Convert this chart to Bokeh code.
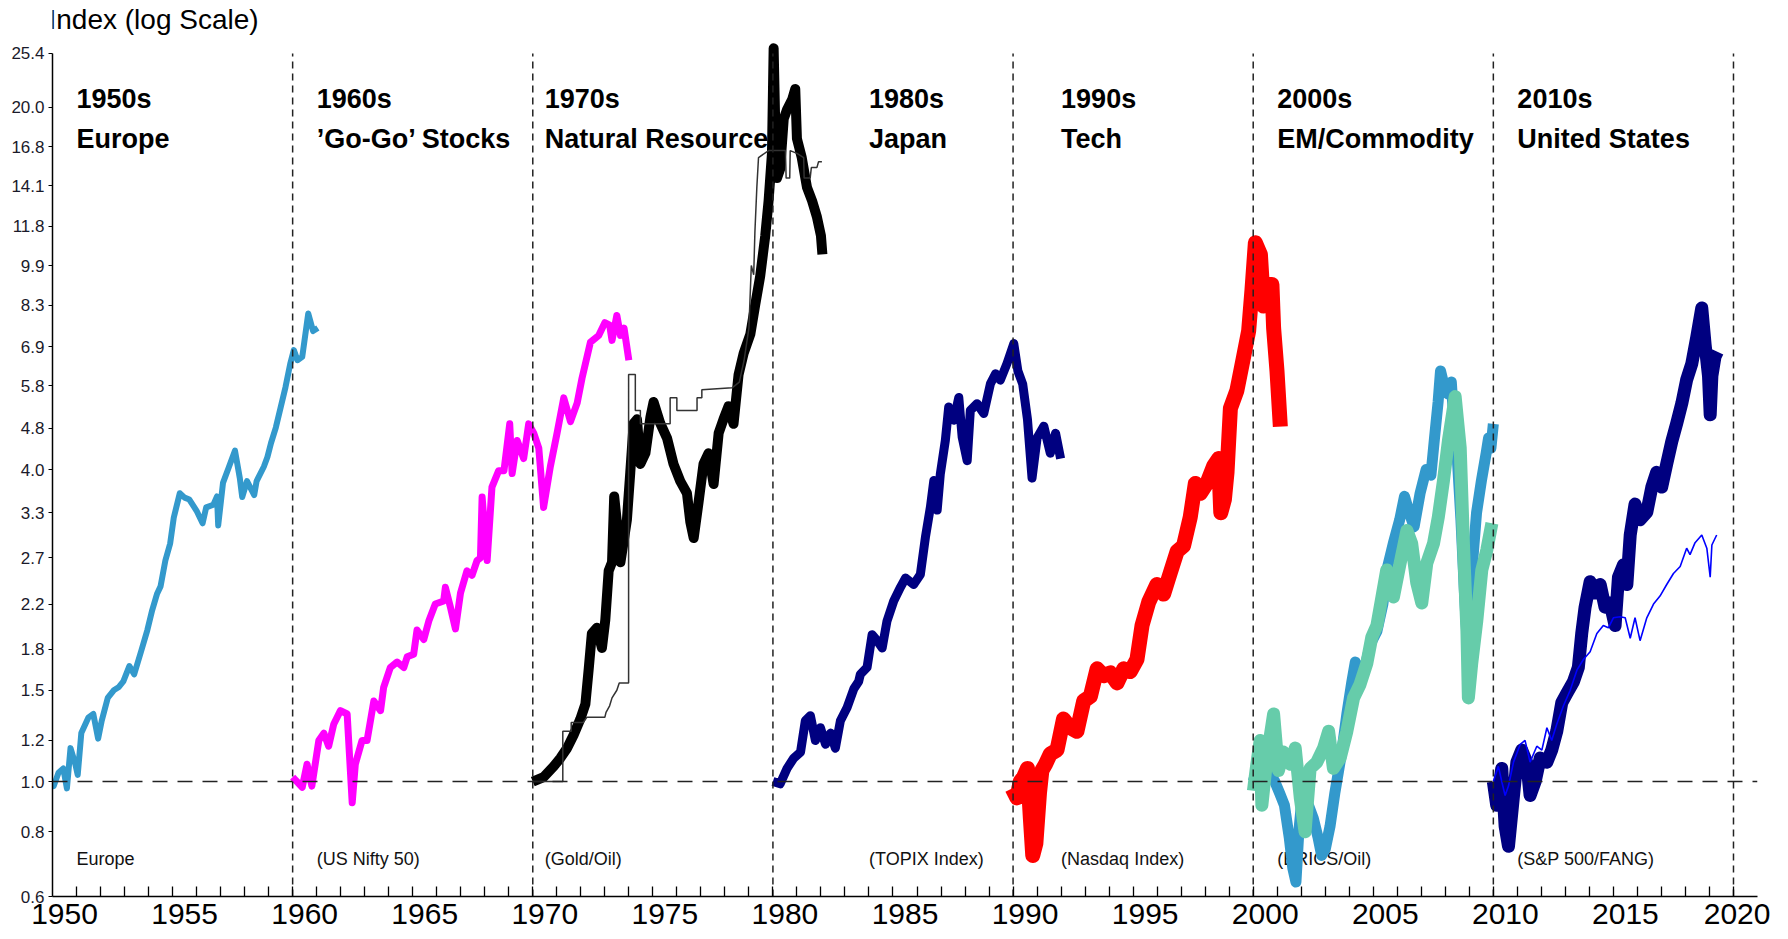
import math
from bokeh.plotting import figure
from bokeh.models import Range1d, FixedTicker, PrintfTickFormatter, CustomJSTickFormatter, Span, Label
from bokeh.core.properties import value
from bokeh.embed import file_html
from bokeh.resources import INLINE

# ---------------- data ----------------
europe_year = [1950.0, 1950.05, 1950.25, 1950.45, 1950.6, 1950.75, 1950.95, 1951.05, 1951.2, 1951.5,
               1951.7, 1951.9, 1952.05, 1952.3, 1952.55, 1952.75, 1952.95, 1953.2, 1953.4, 1953.7,
               1953.95, 1954.15, 1954.35, 1954.5, 1954.7, 1954.9, 1955.05, 1955.3, 1955.5, 1955.7,
               1956.0, 1956.25, 1956.4, 1956.7, 1956.85, 1956.9, 1957.1, 1957.35, 1957.6, 1957.8,
               1957.9, 1958.1, 1958.4, 1958.5, 1958.8, 1958.95, 1959.1, 1959.3, 1959.5, 1959.7,
               1959.9, 1960.05, 1960.2, 1960.4, 1960.65, 1960.85, 1961.05]
europe_value = [1.00, 0.98, 1.04, 1.06, 0.97, 1.16, 1.08, 1.03, 1.24, 1.33,
                1.35, 1.21, 1.31, 1.45, 1.50, 1.52, 1.56, 1.67, 1.61, 1.79,
                1.96, 2.14, 2.30, 2.38, 2.67, 2.88, 3.23, 3.60, 3.53, 3.50,
                3.33, 3.15, 3.38, 3.42, 3.55, 3.12, 3.77, 4.05, 4.35, 3.85,
                3.54, 3.80, 3.57, 3.80, 4.05, 4.23, 4.50, 4.82, 5.27, 5.76,
                6.40, 6.80, 6.50, 6.60, 8.00, 7.40, 7.50]

nifty_year = [1960.0, 1960.4, 1960.6, 1960.8, 1961.09, 1961.3, 1961.5, 1961.71, 1961.99, 1962.27,
              1962.48, 1962.61, 1962.89, 1963.1, 1963.38, 1963.66, 1963.79, 1964.07, 1964.35, 1964.63,
              1964.77, 1965.04, 1965.18, 1965.46, 1965.67, 1965.94, 1966.29, 1966.36, 1966.57, 1966.78,
              1966.99, 1967.26, 1967.47, 1967.68, 1967.82, 1967.89, 1968.1, 1968.3, 1968.58, 1968.8,
              1969.04, 1969.14, 1969.35, 1969.62, 1969.83, 1970.04, 1970.25, 1970.45, 1970.73, 1971.01,
              1971.29, 1971.57, 1971.85, 1972.05, 1972.4, 1972.75, 1973.0, 1973.2, 1973.3, 1973.5,
              1973.65, 1973.8, 1974.0]
nifty_value = [1.02, 0.975, 1.08, 0.98, 1.20, 1.24, 1.17, 1.29, 1.37, 1.35,
               0.91, 1.08, 1.20, 1.20, 1.43, 1.37, 1.52, 1.66, 1.70, 1.66,
               1.74, 1.76, 1.96, 1.88, 2.04, 2.20, 2.23, 2.37, 2.17, 1.97,
               2.31, 2.55, 2.50, 2.67, 2.70, 3.54, 2.67, 3.70, 3.98, 3.98,
               4.90, 3.93, 4.55, 4.20, 4.90, 4.70, 4.40, 3.38, 4.05, 4.70,
               5.50, 4.95, 5.38, 6.00, 7.04, 7.26, 7.68, 7.60, 7.10, 7.93,
               7.26, 7.50, 6.50]

resources_year = [1970.0, 1970.45, 1970.87, 1971.15, 1971.43, 1971.7, 1971.98, 1972.19, 1972.33, 1972.46,
                  1972.67, 1972.88, 1973.02, 1973.16, 1973.3, 1973.39, 1973.5, 1973.65, 1973.78, 1973.92,
                  1974.06, 1974.2, 1974.34, 1974.48, 1974.69, 1974.9, 1975.03, 1975.31, 1975.59, 1975.86,
                  1976.14, 1976.42, 1976.56, 1976.7, 1976.9, 1977.11, 1977.32, 1977.53, 1977.74, 1977.94,
                  1978.15, 1978.36, 1978.57, 1978.78, 1979.06, 1979.26, 1979.47, 1979.68, 1979.82, 1979.96,
                  1980.03, 1980.1, 1980.17, 1980.3, 1980.45, 1980.59, 1980.8, 1980.93, 1981.0, 1981.2,
                  1981.42, 1981.63, 1981.83, 1982.0, 1982.06]
resources_value = [1.00, 1.02, 1.07, 1.11, 1.16, 1.23, 1.32, 1.41, 1.65, 1.93,
                   1.98, 1.81, 2.05, 2.55, 2.65, 3.55, 3.17, 2.65, 2.90, 3.20,
                   3.95, 4.91, 5.00, 4.10, 4.30, 5.05, 5.40, 4.91, 4.60, 4.10,
                   3.80, 3.60, 3.17, 2.95, 3.45, 4.10, 4.30, 3.75, 4.70, 5.00,
                   5.30, 4.90, 6.10, 6.70, 7.30, 8.30, 9.45, 11.30, 13.20, 16.30,
                   26.00, 18.20, 14.60, 15.20, 19.00, 19.80, 20.70, 21.70, 17.40, 16.00,
                   14.00, 13.20, 12.30, 11.30, 10.40]

goldoil_year = [1970.0, 1970.85, 1971.25, 1971.25, 1971.6, 1971.6, 1972.1, 1972.25, 1973.0, 1973.05,
                1973.2, 1973.3, 1973.5, 1973.6, 1973.99, 1973.99, 1974.27, 1974.27, 1974.48, 1974.48,
                1975.72, 1975.72, 1976.0, 1976.0, 1976.84, 1976.84, 1977.04, 1977.04, 1978.3, 1978.6,
                1978.8, 1979.0, 1979.1, 1979.2, 1979.25, 1979.33, 1979.4, 1979.82, 1980.52, 1980.55,
                1980.7, 1980.72, 1981.0, 1981.28, 1981.3, 1981.55, 1981.6, 1981.83, 1981.9, 1982.04]
goldoil_value = [1.00, 1.00, 1.00, 1.25, 1.25, 1.30, 1.30, 1.33, 1.33, 1.36,
                 1.40, 1.45, 1.50, 1.55, 1.55, 6.10, 6.10, 5.20, 5.20, 4.90,
                 4.90, 5.50, 5.50, 5.20, 5.20, 5.50, 5.50, 5.70, 5.75, 5.90,
                 6.50, 7.50, 9.90, 9.50, 11.50, 14.00, 16.00, 16.50, 16.50, 14.60,
                 14.60, 16.50, 16.30, 16.00, 14.60, 14.60, 15.30, 15.30, 15.70, 15.70]

topix_year = [1980.0, 1980.3, 1980.59, 1980.87, 1981.15, 1981.35, 1981.56, 1981.77, 1981.98, 1982.19,
              1982.4, 1982.6, 1982.81, 1983.09, 1983.37, 1983.57, 1983.64, 1983.92, 1984.13, 1984.34,
              1984.55, 1984.75, 1985.03, 1985.31, 1985.52, 1985.86, 1986.14, 1986.35, 1986.56, 1986.7,
              1986.84, 1986.97, 1987.18, 1987.32, 1987.53, 1987.74, 1987.88, 1988.09, 1988.22, 1988.5,
              1988.78, 1989.06, 1989.27, 1989.47, 1989.75, 1990.03, 1990.2, 1990.4, 1990.6, 1990.79,
              1991.0, 1991.28, 1991.55, 1991.77, 1991.98]
topix_value = [1.00, 0.99, 1.06, 1.11, 1.14, 1.31, 1.34, 1.20, 1.27, 1.18,
               1.24, 1.16, 1.31, 1.39, 1.51, 1.56, 1.61, 1.66, 1.92, 1.87,
               1.81, 2.04, 2.23, 2.37, 2.47, 2.40, 2.51, 2.96, 3.39, 3.81,
               3.34, 3.92, 4.55, 5.28, 4.98, 5.51, 4.62, 4.16, 5.20, 5.36,
               5.13, 5.86, 6.12, 5.95, 6.41, 7.00, 6.20, 5.85, 5.00, 3.85,
               4.60, 4.85, 4.30, 4.70, 4.20]

nasdaq_year = [1989.96, 1990.16, 1990.3, 1990.44, 1990.6, 1990.72, 1990.82, 1990.95, 1991.1, 1991.2,
               1991.35, 1991.55, 1991.83, 1992.1, 1992.38, 1992.66, 1992.94, 1993.22, 1993.5, 1993.77,
               1994.05, 1994.33, 1994.61, 1994.88, 1995.16, 1995.37, 1995.65, 1995.99, 1996.27, 1996.55,
               1996.83, 1997.1, 1997.38, 1997.59, 1997.8, 1998.07, 1998.35, 1998.56, 1998.65, 1998.8,
               1998.91, 1999.05, 1999.32, 1999.6, 1999.81, 1999.95, 2000.09, 2000.3, 2000.43, 2000.57,
               2000.78, 2000.85, 2000.99, 2001.13]
nasdaq_value = [0.97, 0.93, 1.00, 1.02, 1.06, 0.85, 0.72, 0.76, 0.95, 1.05,
                1.08, 1.13, 1.15, 1.32, 1.27, 1.25, 1.43, 1.46, 1.65, 1.60,
                1.62, 1.55, 1.65, 1.63, 1.72, 2.00, 2.22, 2.40, 2.30, 2.53,
                2.78, 2.85, 3.24, 3.76, 3.60, 3.76, 4.06, 4.20, 3.30, 3.50,
                3.95, 5.25, 5.68, 6.60, 7.40, 8.90, 10.96, 10.40, 8.27, 9.10,
                9.10, 7.50, 6.20, 4.84]

brics_year = [2000.0, 2000.3, 2000.6, 2000.9, 2001.1, 2001.3, 2001.5, 2001.65, 2001.78, 2001.9,
              2002.05, 2002.3, 2002.5, 2002.7, 2002.85, 2003.0, 2003.2, 2003.4, 2003.7, 2003.9,
              2004.1, 2004.25, 2004.45, 2004.7, 2004.9, 2005.15, 2005.4, 2005.6, 2005.85, 2006.1,
              2006.3, 2006.5, 2006.7, 2006.95, 2007.2, 2007.4, 2007.55, 2007.7, 2007.8, 2007.95,
              2008.1, 2008.25, 2008.35, 2008.5, 2008.65, 2008.8, 2008.9, 2009.0, 2009.15, 2009.3,
              2009.5, 2009.7, 2009.8, 2009.9, 2010.0]
brics_value = [1.00, 1.10, 1.05, 1.00, 0.95, 0.90, 0.78, 0.68, 0.64, 0.80,
               0.95, 0.90, 0.85, 0.78, 0.72, 0.74, 0.82, 0.95, 1.15, 1.35,
               1.55, 1.70, 1.55, 1.70, 1.85, 1.95, 2.20, 2.60, 2.90, 3.20,
               3.55, 3.30, 3.10, 3.60, 4.00, 3.90, 4.60, 5.40, 6.20, 5.80,
               5.60, 5.90, 5.00, 4.20, 3.20, 2.30, 1.90, 2.20, 2.70, 3.30,
               3.80, 4.30, 4.60, 4.40, 4.90]

oil_year = [2000.01, 2000.15, 2000.29, 2000.36, 2000.57, 2000.85, 2001.05, 2001.26, 2001.54, 2001.75,
            2001.96, 2002.16, 2002.37, 2002.65, 2002.93, 2003.14, 2003.34, 2003.62, 2003.9, 2004.18,
            2004.45, 2004.73, 2004.94, 2005.15, 2005.36, 2005.56, 2005.84, 2006.12, 2006.4, 2006.6,
            2006.81, 2007.02, 2007.23, 2007.51, 2007.71, 2007.92, 2008.13, 2008.41, 2008.62, 2008.76,
            2008.9, 2008.96, 2009.1, 2009.31, 2009.52, 2009.73, 2009.94]
oil_value = [0.96, 1.08, 1.20, 0.90, 1.11, 1.35, 1.05, 1.14, 1.08, 1.16,
             0.93, 0.80, 1.06, 1.09, 1.16, 1.25, 1.06, 1.11, 1.25, 1.45,
             1.54, 1.69, 1.90, 2.00, 2.27, 2.56, 2.27, 2.64, 3.05, 2.88,
             2.42, 2.21, 2.64, 2.88, 3.24, 3.80, 4.55, 5.53, 4.41, 2.83,
             1.95, 1.45, 1.69, 2.04, 2.56, 2.80, 3.15]

fang_year = [2010.0, 2010.14, 2010.35, 2010.49, 2010.63, 2010.84, 2010.98, 2011.18, 2011.39, 2011.53,
             2011.74, 2011.95, 2012.23, 2012.43, 2012.64, 2012.85, 2013.06, 2013.34, 2013.54, 2013.68,
             2013.82, 2014.03, 2014.24, 2014.45, 2014.65, 2014.86, 2015.07, 2015.21, 2015.42, 2015.56,
             2015.7, 2015.9, 2016.11, 2016.39, 2016.6, 2016.8, 2017.01, 2017.22, 2017.43, 2017.64,
             2017.85, 2018.05, 2018.26, 2018.47, 2018.68, 2018.82, 2018.96, 2019.03, 2019.1, 2019.23,
             2019.33]
fang_value = [1.00, 0.90, 1.06, 0.82, 0.75, 0.94, 1.09, 1.15, 1.09, 0.94,
              1.00, 1.11, 1.09, 1.15, 1.25, 1.42, 1.48, 1.56, 1.66, 1.93,
              2.17, 2.43, 2.31, 2.40, 2.17, 2.21, 2.00, 2.48, 2.62, 2.40,
              2.99, 3.43, 3.20, 3.31, 3.70, 3.95, 3.70, 4.10, 4.53, 4.92,
              5.37, 5.96, 6.39, 7.20, 8.20, 6.95, 6.06, 5.10, 6.06, 6.60,
              6.75]

sp500_year = [2010.0, 2010.21, 2010.35, 2010.49, 2010.63, 2010.84, 2011.12, 2011.32, 2011.53, 2011.81,
              2012.02, 2012.23, 2012.43, 2012.64, 2012.92, 2013.2, 2013.48, 2013.75, 2014.03, 2014.31,
              2014.58, 2014.79, 2015.0, 2015.28, 2015.49, 2015.7, 2015.9, 2016.11, 2016.39, 2016.67,
              2016.94, 2017.22, 2017.5, 2017.78, 2018.05, 2018.19, 2018.4, 2018.68, 2018.89, 2019.03,
              2019.1, 2019.3]
sp500_value = [1.00, 1.07, 1.00, 0.94, 0.98, 1.09, 1.18, 1.20, 1.09, 1.17,
               1.15, 1.27, 1.20, 1.29, 1.40, 1.50, 1.64, 1.72, 1.78, 1.93,
               2.00, 1.98, 2.07, 2.08, 2.07, 1.89, 2.07, 1.87, 2.07, 2.20,
               2.28, 2.40, 2.52, 2.60, 2.82, 2.74, 2.89, 2.99, 2.82, 2.48,
               2.86, 2.99]

y_tick_values = [0.6, 0.8, 1.0, 1.2, 1.5, 1.8, 2.2, 2.7, 3.3, 4.0, 4.8, 5.8, 6.9, 8.3, 9.9,
                 11.8, 14.1, 16.8, 20.0, 25.4]
x_tick_labels = [1950, 1955, 1960, 1965, 1970, 1975, 1980, 1985, 1990, 1995, 2000, 2005, 2010, 2015, 2020]
decade_lines = [1960, 1970, 1980, 1990, 2000, 2010, 2020]

era_title = ["1950s", "1960s", "1970s", "1980s", "1990s", "2000s", "2010s"]
era_theme = ["Europe", "\u2019Go-Go\u2019 Stocks", "Natural Resource", "Japan", "Tech", "EM/Commodity", "United States"]
era_source = ["Europe", "(US Nifty 50)", "(Gold/Oil)", "(TOPIX Index)", "(Nasdaq Index)", "(BRICS/Oil)", "(S&P 500/FANG)"]
era_x = [1951.0, 1961.0, 1970.5, 1984.0, 1992.0, 2001.0, 2011.0]

# ---------------- layout helpers ----------------
Y_TOP, PX_TOP, PX_PER_LN = 25.4, 53.0, 225.07   # value 25.4 sits at canvas y=53


def val_at(canvas_y):
    """value on the log axis found at a given canvas pixel row (for text placement only)"""
    return Y_TOP * math.exp((PX_TOP - canvas_y) / PX_PER_LN)


ARIAL = "'Liberation Sans', Arial, sans-serif"

p = figure(width=1770, height=939, x_range=Range1d(1950, 2021), y_range=Range1d(0.6, val_at(0)),
           y_axis_type="log", output_backend="svg", toolbar_location=None,
           min_border_left=52, min_border_right=13, min_border_top=0, min_border_bottom=43)
p.outline_line_color = None
p.xgrid.visible = False
p.ygrid.visible = False
p.background_fill_color = "white"
p.border_fill_color = "white"

# x axis
xa = p.xaxis[0]
xa.ticker = FixedTicker(ticks=[t + 0.5 for t in x_tick_labels], minor_ticks=list(range(1951, 2021)))
xa.formatter = CustomJSTickFormatter(code="return Math.floor(tick).toString();")
xa.bounds = (1950, 2021)
xa.axis_line_width = 1.5
xa.axis_line_color = "black"
xa.major_tick_in = 0
xa.major_tick_out = 0
xa.minor_tick_in = 10
xa.minor_tick_out = 0
xa.minor_tick_line_width = 1.3
xa.minor_tick_line_color = "black"
xa.major_label_text_font = ARIAL
xa.major_label_text_font_size = "30px"
xa.major_label_text_color = "black"
xa.major_label_standoff = 7

# y axis
ya = p.yaxis[0]
ya.ticker = FixedTicker(ticks=y_tick_values, minor_ticks=[])
ya.formatter = PrintfTickFormatter(format="%.1f")
ya.bounds = (0.6, 25.4)
ya.axis_line_width = 1.5
ya.axis_line_color = "black"
ya.major_tick_in = 0
ya.major_tick_out = 4
ya.major_tick_line_color = "black"
ya.minor_tick_in = 0
ya.minor_tick_out = 0
ya.major_label_text_font = ARIAL
ya.major_label_text_font_size = "17px"
ya.major_label_text_color = "#1a1a2a"
ya.major_label_standoff = 4

# era titles (under the lines)
p.text(x=era_x, y=[val_at(99)] * len(era_x), text=era_title, text_font=value(ARIAL),
       text_font_style="bold", text_font_size="27px", text_baseline="alphabetic", text_color="black")
p.text(x=era_x, y=[val_at(139)] * len(era_x), text=era_theme, text_font=value(ARIAL),
       text_font_style="bold", text_font_size="27px", text_baseline="alphabetic", text_color="black")
p.text(x=era_x, y=[val_at(859)] * len(era_x), text=era_source, text_font=value(ARIAL),
       text_font_size="18px", text_baseline="alphabetic", text_color="#111111")

# series
p.line(europe_year, europe_value, line_color="#3399CC", line_width=6, line_join="round")
p.line(nifty_year, nifty_value, line_color="#FF00FF", line_width=7, line_join="round")
p.line(resources_year, resources_value, line_color="black", line_width=10, line_join="round")
p.line(goldoil_year, goldoil_value, line_color="#333333", line_width=1.5)
p.line(topix_year, topix_value, line_color="#000080", line_width=9, line_join="round")
p.line(nasdaq_year, nasdaq_value, line_color="#FF0000", line_width=15, line_join="round")
p.line(brics_year, brics_value, line_color="#3399CC", line_width=11, line_join="round")
p.line(oil_year, oil_value, line_color="#66CCAA", line_width=13, line_join="round")
p.line(fang_year, fang_value, line_color="#000080", line_width=13, line_join="round")
p.line(sp500_year, sp500_value, line_color="#0000FF", line_width=1.6)

# reference lines
p.segment(x0=decade_lines, y0=[0.6] * len(decade_lines), x1=decade_lines, y1=[25.4] * len(decade_lines),
          line_color="#222222", line_width=1.5, line_dash="7 5")
p.add_layout(Span(location=1.0, dimension="width", line_color="#222222", line_width=1.6,
                  line_dash="15 10"))

p.add_layout(Label(x=1950, y=val_at(19), x_offset=-4, text="Index (log Scale)", text_font=ARIAL,
                   text_font_size="28px", text_baseline="middle", text_color="black"))

open("out.html", "w").write(file_html(p, INLINE))
